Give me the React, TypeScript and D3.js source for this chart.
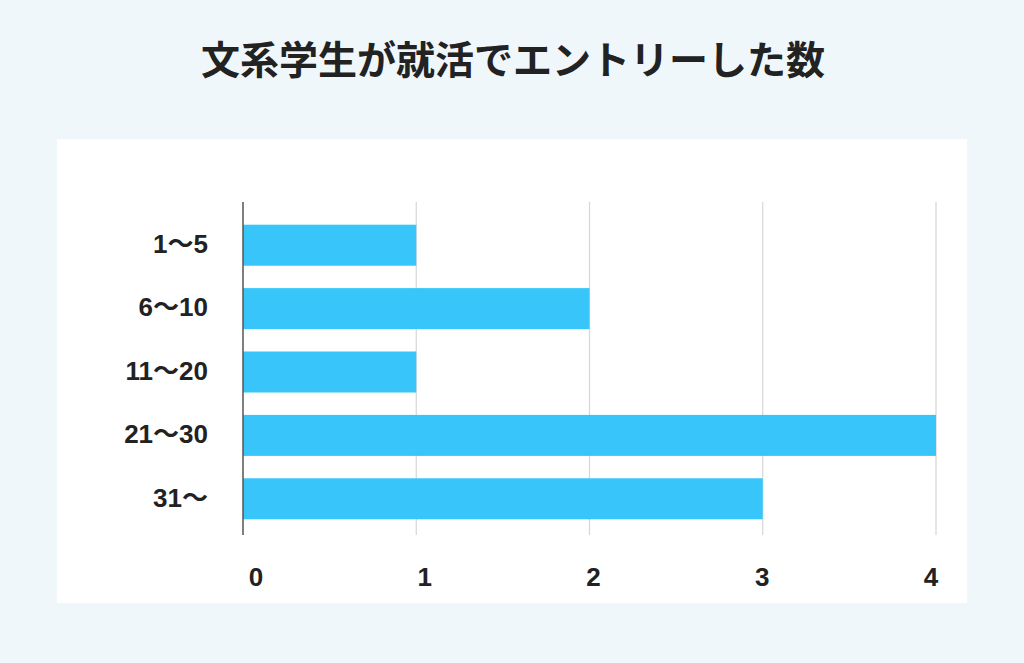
import React from "react";
import * as d3 from "d3";

const title = "文系学生が就活でエントリーした数";
const categories = ["1〜5", "6〜10", "11〜20", "21〜30", "31〜"];
const values = [1, 2, 1, 4, 3];
const ticks = [0, 1, 2, 3, 4];

const W = 1024;
const H = 663;

export default function App() {
  const x = d3.scaleLinear().domain([0, 4]).range([243, 936]);
  const xLabel = d3.scaleLinear().domain([0, 4]).range([256, 931]);
  const y = d3
    .scaleBand<string>()
    .domain(categories)
    .range([206, 538])
    .paddingInner(0.353)
    .paddingOuter(0.295);
  const titleFont = "'Noto Sans CJK JP', 'Noto Sans', sans-serif";
  const font = "'Liberation Sans', Arial, 'Noto Sans CJK JP', sans-serif";
  return (
    <svg
      width={W}
      height={H}
      style={{ position: "absolute", left: 0, top: 0, display: "block" }}
    >
      <rect x={0} y={0} width={W} height={H} fill="#EFF7FB" />
      <text
        x={513}
        y={74}
        textAnchor="middle"
        fontFamily={titleFont}
        fontWeight={700}
        fontSize={39}
        fill="#222"
      >
        {title}
      </text>
      <rect x={57} y={139} width={910} height={464} fill="#FFFFFF" />
      {ticks
        .filter((t) => t > 0)
        .map((t) => (
          <line
            key={t}
            x1={x(t)}
            x2={x(t)}
            y1={202}
            y2={535}
            stroke="#D6D6D6"
            strokeWidth={1.2}
          />
        ))}
      {categories.map((c, i) => (
        <rect
          key={c}
          x={x(0)}
          y={y(c)}
          width={x(values[i]) - x(0)}
          height={y.bandwidth()}
          fill="#38C6FA"
        />
      ))}
      <line x1={x(0)} x2={x(0)} y1={202} y2={535} stroke="#555" strokeWidth={1.5} />
      {categories.map((c) => (
        <text
          key={c}
          x={208}
          y={(y(c) as number) + y.bandwidth() / 2}
          dy="0.3em"
          textAnchor="end"
          fontFamily={font}
          fontWeight={700}
          fontSize={26}
          fill="#222"
        >
          {c}
        </text>
      ))}
      {ticks.map((t) => (
        <text
          key={t}
          x={xLabel(t)}
          y={586}
          textAnchor="middle"
          fontFamily={font}
          fontWeight={700}
          fontSize={26}
          fill="#222"
        >
          {t}
        </text>
      ))}
    </svg>
  );
}
